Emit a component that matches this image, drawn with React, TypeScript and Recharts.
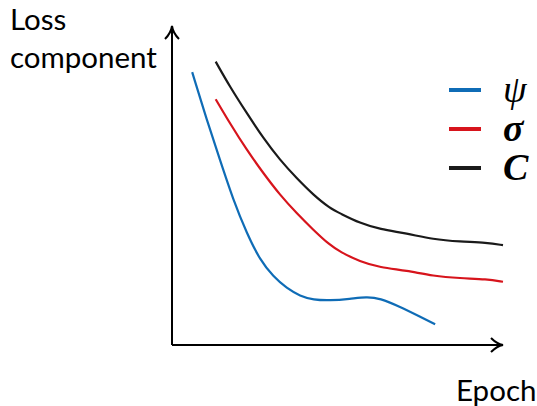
import React from "react";
import { LineChart, Line, XAxis, YAxis, ReferenceLine } from "recharts";

// epoch (x) / loss (y), both on a 0-100 scale
const psiX = [6.1, 10.5, 14.5, 18.5, 22.6, 26.6, 30.6, 34.7, 38.7, 42.7, 47.7, 53.8, 58.8, 62.8, 68.9, 74.9, 79.5];
const psiY = [85.8, 70.8, 58.2, 45.6, 35.1, 26.7, 21.5, 17.8, 15.4, 14.2, 14.0, 14.5, 15.2, 14.7, 12.0, 8.9, 6.5];

const sigmaX = [13.2, 17.5, 22.6, 27.6, 32.6, 37.7, 42.7, 47.7, 50.8, 56.8, 62.8, 70.9, 78.9, 87.0, 95.1, 100];
const sigmaY = [77.3, 69.7, 61.3, 54.0, 47.2, 41.4, 36.2, 31.4, 29.3, 26.2, 24.4, 23.4, 21.7, 21.0, 20.7, 19.9];

const cX = [13.2, 17.5, 22.6, 27.6, 32.6, 37.7, 42.7, 47.7, 50.8, 56.8, 62.8, 70.9, 78.9, 87.0, 95.1, 100];
const cY = [89.1, 81.2, 72.9, 65.0, 58.2, 52.4, 47.2, 43.0, 41.4, 38.3, 36.4, 35.1, 33.2, 32.5, 32.2, 31.4];

const SERIES = [
  { key: "psi", name: "ψ", color: "#0f6cb6", bold: false, xs: psiX, ys: psiY },
  { key: "sigma", name: "σ", color: "#d7141c", bold: true, xs: sigmaX, ys: sigmaY },
  { key: "C", name: "C", color: "#1a1a1a", bold: true, xs: cX, ys: cY },
];

const toPoints = (xs: number[], ys: number[]) => xs.map((x, i) => ({ x, y: ys[i] }));

const LegendBox = () => (
  <div style={{ position: "absolute", left: 449, top: 70, display: "flex", flexDirection: "column" }}>
    {SERIES.map((s) => (
      <div key={s.key} style={{ display: "flex", alignItems: "center", height: 39 }}>
        <div style={{ width: 32, height: 4, background: s.color }} />
        <span
          style={{
            marginLeft: 22,
            fontFamily: "'Liberation Serif', serif",
            fontStyle: "italic",
            fontWeight: s.bold ? "bold" : "normal",
            fontSize: 38,
            lineHeight: "39px",
            color: "#000",
          }}
        >
          {s.name}
        </span>
      </div>
    ))}
  </div>
);

export default function App() {
  return (
    <div style={{ position: "absolute", left: 0, top: 0, width: 537, height: 406, background: "#fff" }}>
      <LineChart width={537} height={406} margin={{ top: 27, right: 34, bottom: 61, left: 172 }}>
        <XAxis type="number" dataKey="x" domain={[0, 100]} hide />
        <YAxis type="number" dataKey="y" domain={[0, 100]} hide />
        <ReferenceLine x={0} stroke="#000" strokeWidth={2} ifOverflow="visible" />
        <ReferenceLine y={0} stroke="#000" strokeWidth={2} ifOverflow="visible" />
        {SERIES.map((s) => (
          <Line
            key={s.key}
            data={toPoints(s.xs, s.ys)}
            dataKey="y"
            name={s.name}
            type="basis"
            stroke={s.color}
            strokeWidth={2.2}
            dot={false}
            isAnimationActive={false}
          />
        ))}
      </LineChart>
      {/* arrow heads */}
      <svg width={537} height={406} style={{ position: "absolute", left: 0, top: 0, pointerEvents: "none" }}>
        <path d="M165 39 Q171 33 172 26 Q173 33 179 39" fill="none" stroke="#000" strokeWidth={2} />
        <path d="M491 338 Q497 344 503 345 Q497 346 491 352" fill="none" stroke="#000" strokeWidth={2} />
      </svg>
      <LegendBox />
      <div style={{ position: "absolute", left: 10, top: 0, fontFamily: "Lato", fontSize: 29.5, lineHeight: "38px", color: "#000" }}>
        Loss<br />component
      </div>
      <div style={{ position: "absolute", left: 456, top: 371, fontFamily: "Lato", fontSize: 29.5, lineHeight: "38px", color: "#000" }}>
        Epoch
      </div>
    </div>
  );
}
